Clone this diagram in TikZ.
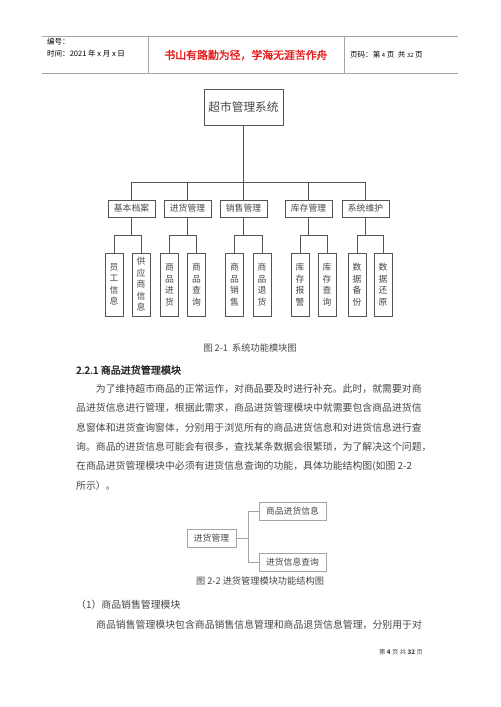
\documentclass[tikz,border=0pt]{standalone}
\usepackage{fontspec}
\usepackage{tikz}
\usetikzlibrary{positioning}
\setmainfont{Noto Sans CJK SC}
\newfontfamily\boldcjk[FakeBold=2]{Noto Sans CJK SC}
\definecolor{lnA}{RGB}{ 85, 85, 85}
\definecolor{lnB}{RGB}{165,165,165}
\definecolor{txA}{RGB}{ 70, 70, 70}
\definecolor{txR}{RGB}{232, 28, 28}

\begin{document}
\begin{tikzpicture}[x=0.042cm, y=-0.042cm,
  sysbox/.style={
    draw=lnA, line width=0.8pt, text=txA,
    minimum width=3.32cm, minimum height=1.51cm,
    font=\fontsize{14}{16}\selectfont, anchor=center
  },
  modbox/.style={
    draw=lnA, line width=0.7pt, text=txA,
    minimum width=1.97cm, minimum height=0.71cm, inner sep=0pt,
    font=\fontsize{10.5}{12}\selectfont
  },
  leafbox/.style={
    draw=lnA, line width=0.7pt, text=txA,
    minimum width=0.76cm, minimum height=2.65cm, inner sep=0pt,
    font=\fontsize{10.5}{13.7}\selectfont, align=center
  },
  subbox/.style={
    draw=lnB, line width=0.6pt, text=txA,
    minimum height=0.77cm, inner sep=0pt,
    font=\fontsize{10.5}{12}\selectfont
  },
  tline/.style={draw=lnA, line width=0.7pt},
  sline/.style={draw=lnB, line width=0.6pt},
  body/.style={
    text=txA, inner sep=0pt, align=left,
    font=\fontsize{11.8}{23.1}\selectfont
  },
  figcap/.style={text=txA, inner sep=0pt, font=\fontsize{11}{13}\selectfont}
]
\useasboundingbox (0,0) rectangle (500,707);

% page header
\draw[lnB, line width=1pt] (42,36) -- (458,36) (42,73) -- (458,73);
\draw[lnB, line width=0.8pt] (148,36) -- (148,73) (344,36) -- (344,73);
\node[inner sep=0pt, anchor=west, font=\fontsize{9}{11}\selectfont] (hdno) at (47,42) {编号：};
\node[inner sep=0pt, anchor=west, font=\fontsize{9}{11}\selectfont] (hdtime) at (47,54) {时间：2021 年 x 月 x 日};
\node[inner sep=0pt, text=txR, font=\boldcjk\fontsize{13}{15}\selectfont] (motto) at (246,55) {书山有路勤为径，学海无涯苦作舟};
\node[inner sep=0pt, anchor=west, font=\fontsize{9}{11}\selectfont] (hdpage) at (350,55) {页码：第 {\fontsize{7}{9}\selectfont 4} 页\ \ 共 {\fontsize{7}{9}\selectfont 32} 页};

% figure 2-1
\node[sysbox] (sys) at (243.5,107) {超市管理系统};
\node[modbox] (m1) at (131.5,208.5) {基本档案};
\node[modbox] (m2) at (187.5,208.5) {进货管理};
\node[modbox] (m3) at (243.5,208.5) {销售管理};
\node[modbox] (m4) at (308.5,208.5) {库存管理};
\node[modbox] (m5) at (365.5,208.5) {系统维护};

\node[leafbox] (l1a) at (114,284.5) {员\\工\\信\\息};
\node[leafbox] (l1b) at (141,284.5) {供\\应\\商\\信\\息};
\node[leafbox] (l2a) at (169.5,284.5) {商\\品\\进\\货};
\node[leafbox] (l2b) at (196.5,284.5) {商\\品\\查\\询};
\node[leafbox] (l3a) at (234.5,284.5) {商\\品\\销\\售};
\node[leafbox] (l3b) at (262,284.5) {商\\品\\退\\货};
\node[leafbox] (l4a) at (300,284.5) {库\\存\\报\\警};
\node[leafbox] (l4b) at (327,284.5) {库\\存\\查\\询};
\node[leafbox] (l5a) at (357,284.5) {数\\据\\备\\份};
\node[leafbox] (l5b) at (383,284.5) {数\\据\\还\\原};

\draw[tline] (sys.south) -- (m3.north);
\draw[tline] (m1.north) -- ++(0,-17.5) -| (m5.north);
\draw[tline] (m2.north) -- ++(0,-17.5);
\draw[tline] (m4.north) -- ++(0,-17.5);
\foreach \m/\a/\b in {m1/l1a/l1b, m2/l2a/l2b, m3/l3a/l3b, m4/l4a/l4b, m5/l5a/l5b}{
  \draw[tline] (\m.south) -- ++(0,19);
  \draw[tline] (\a.north) -- ++(0,-17) -| (\b.north);
}

\node[figcap] (cap1) at (250,348) {图 2-1\ \ 系统功能模块图};

% section 2.2.1
\node[inner sep=0pt, anchor=west, text=black!85, font=\boldcjk\fontsize{12}{14}\selectfont] (sec) at (76,370) {2.2.1 商品进货管理模块};
\node[body, anchor=north west] (para1) at (76,384) {\hspace*{2em}为了维持超市商品的正常运作，对商品要及时进行补充。此时，就需要对商\\
品进货信息进行管理，根据此需求，商品进货管理模块中就需要包含商品进货信\\
息窗体和进货查询窗体，分别用于浏览所有的商品进货信息和对进货信息进行查\\
询。商品的进货信息可能会有很多，查找某条数据会很繁琐，为了解决这个问题，\\
在商品进货管理模块中必须有进货信息查询的功能，具体功能结构图(如图 2-2\\
所示）。};

% figure 2-2
\node[subbox, minimum width=2.06cm] (jh) at (211.5,538) {进货管理};
\node[subbox, minimum width=2.81cm] (jhxx) at (292.5,511) {商品进货信息};
\node[subbox, minimum width=2.81cm] (jhcx) at (292.5,562.5) {进货信息查询};
\draw[sline] (jh.east) -- ++(12,0) |- (jhxx.west);
\draw[sline] (jh.east) -- ++(12,0) |- (jhcx.west);
\node[figcap] (cap2) at (260,581) {图 2-2\ 进货管理模块功能结构图};

% section (1)
\node[body, anchor=west] (sub1) at (76,605) {（1）商品销售管理模块};
\node[body, anchor=west] (para2) at (96,625) {商品销售管理模块包含商品销售信息管理和商品退货信息管理，分别用于对};

% footer
\node[inner sep=0pt, anchor=east, text=txA, font=\fontsize{7.5}{9}\selectfont] (foot) at (423,652) {第 \textbf{4} 页 共 \textbf{32} 页};
\end{tikzpicture}
\end{document}
